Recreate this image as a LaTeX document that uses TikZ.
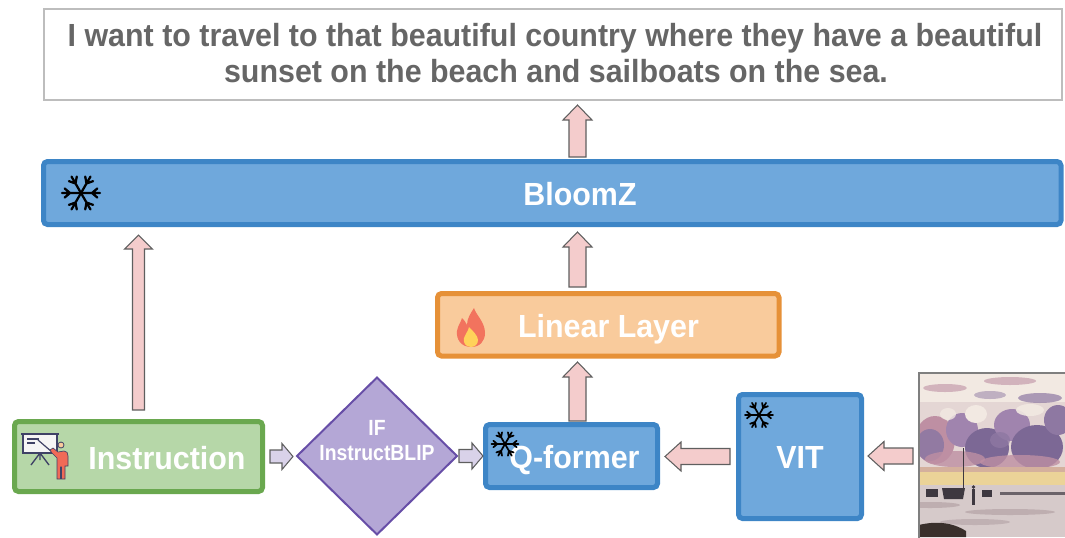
\documentclass[tikz,border=0pt]{standalone}
\usepackage{fontspec}
\setmainfont{Liberation Sans}[FakeStretch=0.95]
\newfontfamily\narrowfont{Liberation Sans}[FakeStretch=0.88]
\usetikzlibrary{shapes.geometric,calc}

\definecolor{topborder}{HTML}{BDBDBD}
\definecolor{toptext}{HTML}{666666}
\definecolor{bluefill}{HTML}{6FA8DC}
\definecolor{blueedge}{HTML}{3D85C6}
\definecolor{orangefill}{HTML}{F9CB9C}
\definecolor{orangeedge}{HTML}{E69138}
\definecolor{greenfill}{HTML}{B6D7A8}
\definecolor{greenedge}{HTML}{6AA84F}
\definecolor{purplefill}{HTML}{B4A7D6}
\definecolor{purpleedge}{HTML}{674EA7}
\definecolor{pinkfill}{HTML}{F4CCCC}
\definecolor{lilacfill}{HTML}{D9D2E9}
\definecolor{arrowedge}{HTML}{5F5F5F}
\definecolor{firered}{HTML}{F2735E}
\definecolor{fireyellow}{HTML}{FFD25A}
\definecolor{boardline}{HTML}{3F4266}
\definecolor{personred}{HTML}{F06A57}
\definecolor{skybase}{HTML}{E4D6D4}
\definecolor{cloudA}{HTML}{8E78A2}
\definecolor{cloudB}{HTML}{A084AE}
\definecolor{cloudC}{HTML}{7C6895}
\definecolor{cloudpink}{HTML}{BE8FA3}
\definecolor{cream}{HTML}{F2E9E2}
\definecolor{horizon}{HTML}{EBD398}
\definecolor{beach}{HTML}{D6CACA}
\definecolor{beachdark}{HTML}{B8A7AA}
\definecolor{boatdark}{HTML}{3E3840}
\definecolor{rock}{HTML}{3A302C}
\definecolor{frame}{HTML}{7F7F7F}

\tikzset{
  blockbox/.style={draw, line width=5*0.75pt, rounded corners=3pt,
    inner sep=0pt, outer sep=0pt},
  bluebox/.style={blockbox, fill=bluefill, draw=blueedge},
  boxlabel/.style={text=white, inner sep=0pt, anchor=base,
    font=\fontsize{24}{28}\selectfont\bfseries},
  answertext/.style={text=toptext, inner sep=0pt, anchor=base,
    font=\fontsize{24}{28}\selectfont\bfseries},
  pinkblock/.style={fill=pinkfill, draw=arrowedge, line width=0.8pt},
  lilacblock/.style={fill=lilacfill, draw=arrowedge, line width=0.8pt},
  % block arrows: #1 shaft half width, #2 head half width, #3 head length,
  % #4 gap at the start, #5 gap at the tip (all in px)
  up block/.style n args={5}{to path={let \p1=(\tikztostart), \p2=(\tikztotarget) in
    (\x1-#1*0.75pt, \y1+#4*0.75pt)
    -- (\x1-#1*0.75pt, \y2-#5*0.75pt-#3*0.75pt)
    -- (\x1-#2*0.75pt, \y2-#5*0.75pt-#3*0.75pt)
    -- (\x1, \y2-#5*0.75pt)
    -- (\x1+#2*0.75pt, \y2-#5*0.75pt-#3*0.75pt)
    -- (\x1+#1*0.75pt, \y2-#5*0.75pt-#3*0.75pt)
    -- (\x1+#1*0.75pt, \y1+#4*0.75pt) -- cycle}},
  right block/.style n args={5}{to path={let \p1=(\tikztostart), \p2=(\tikztotarget) in
    (\x1+#4*0.75pt, \y1+#1*0.75pt)
    -- (\x2-#5*0.75pt-#3*0.75pt, \y1+#1*0.75pt)
    -- (\x2-#5*0.75pt-#3*0.75pt, \y1+#2*0.75pt)
    -- (\x2-#5*0.75pt, \y1)
    -- (\x2-#5*0.75pt-#3*0.75pt, \y1-#2*0.75pt)
    -- (\x2-#5*0.75pt-#3*0.75pt, \y1-#1*0.75pt)
    -- (\x1+#4*0.75pt, \y1-#1*0.75pt) -- cycle}},
  left block/.style n args={5}{to path={let \p1=(\tikztostart), \p2=(\tikztotarget) in
    (\x1-#4*0.75pt, \y1+#1*0.75pt)
    -- (\x2+#5*0.75pt+#3*0.75pt, \y1+#1*0.75pt)
    -- (\x2+#5*0.75pt+#3*0.75pt, \y1+#2*0.75pt)
    -- (\x2+#5*0.75pt, \y1)
    -- (\x2+#5*0.75pt+#3*0.75pt, \y1-#2*0.75pt)
    -- (\x2+#5*0.75pt+#3*0.75pt, \y1-#1*0.75pt)
    -- (\x1-#4*0.75pt, \y1-#1*0.75pt) -- cycle}},
  pics/flake/.style={code={
    \foreach \ang in {0,60,...,300}{
      \draw[line width=#1, line cap=round, rotate=\ang]
        (0,0) -- (1,0)
        (0.58,0) -- (0.86,0.24) (0.58,0) -- (0.86,-0.24);
    }}},
}

\begin{document}
\begin{tikzpicture}[x=0.75pt,y=-0.75pt]
\useasboundingbox (0,0) rectangle (1065,537);

% output sentence
\node[draw=topborder, line width=2*0.75pt, fill=white, inner sep=0pt, outer sep=0pt,
  minimum width=1018*0.75pt, minimum height=91*0.75pt] (answer) at (553,54.5) {};
\node[answertext] (answer-l1) at (555,46)
  {I want to travel to that beautiful country where they have a beautiful};
\node[answertext] (answer-l2) at (556,82)
  {sunset on the beach and sailboats on the sea.};

% language model
\node[bluebox, minimum width=1017.5*0.75pt, minimum height=63*0.75pt] (bloomz) at (552.25,193) {};
\node[boxlabel] (bloomz-t) at (580,205) {BloomZ};
\pic[scale=19] at (81,193) {flake=1.7pt};

% projection layer
\node[blockbox, fill=orangefill, draw=orangeedge, minimum width=341.5*0.75pt,
  minimum height=62.5*0.75pt] (linear) at (608.25,324.75) {};
\node[boxlabel] (linear-t) at (608.5,337) {Linear Layer};
\begin{scope}[shift={(471,328)}]
  \fill[firered] (0,19) .. controls (-10,19) and (-15,11) .. (-14,3)
    .. controls (-13,-3) and (-10,-6) .. (-9,-10)
    .. controls (-6,-7) and (-5,-5) .. (-4,-3)
    .. controls (-4,-10) and (0,-15) .. (3,-20)
    .. controls (5,-13) and (14,-6) .. (14,5)
    .. controls (14,13) and (9,19) .. (0,19) -- cycle;
  \fill[fireyellow] (0,19) .. controls (-6,19) and (-8,14) .. (-7,10)
    .. controls (-6,6) and (-3,4) .. (-2,-1)
    .. controls (2,3) and (7,8) .. (7,12)
    .. controls (7,16) and (4,19) .. (0,19) -- cycle;
\end{scope}

% instruction
\node[blockbox, fill=greenfill, draw=greenedge, minimum width=248*0.75pt,
  minimum height=70*0.75pt] (instr) at (138.5,456.5) {};
\node[boxlabel] (instr-t) at (167,469) {Instruction};
% presenter icon
\fill[white!96!black] (23,434) rectangle (57,453);
\draw[boardline, line width=1.1pt] (23,434) rectangle (57,453);
\draw[boardline, line width=2pt] (21,434) -- (59,434);
\draw[boardline, line width=1pt] (27,439) -- (39,439) (27,443) -- (35,443);
\draw[boardline, line width=1pt] (40,453) -- (31,465) (40,453) -- (49,465) (40,453) -- (40,460);
\draw[boardline, line width=0.9pt] (38,440) -- (52,452);
\fill[personred, draw=boardline, line width=0.5pt]
  (50,450) -- (53,448) -- (58,452) -- (64,451) .. controls (67,451) and (68,453) .. (68,456)
  -- (68,466) -- (65,466) -- (65,479) -- (61.5,479) -- (61.5,467) -- (60.5,467) -- (60.5,479)
  -- (57,479) -- (57,458) -- (52,453) -- cycle;
\filldraw[fill=orangefill, draw=boardline, line width=0.6pt] (61,445) circle (3);

% instruction-following dataset
\node[diamond, draw=purpleedge, fill=purplefill, line width=2*0.75pt, inner sep=0pt,
  outer sep=0pt, minimum width=160*0.75pt, minimum height=157*0.75pt] (ifib) at (377,456) {};
\node[text=white, inner sep=0pt, anchor=base,
  font=\narrowfont\fontsize{16.5}{19}\selectfont\bfseries] (ifib-t1) at (377,435) {IF};
\node[text=white, inner sep=0pt, anchor=base,
  font=\narrowfont\fontsize{16.5}{19}\selectfont\bfseries] (ifib-t2) at (377,460) {InstructBLIP};

% query transformer
\node[bluebox, minimum width=172*0.75pt, minimum height=63*0.75pt] (qformer) at (571.5,456) {};
\node[boxlabel] (qformer-t) at (574.5,468) {Q-former};
\pic[scale=13.5] at (505,444) {flake=1.3pt};

% vision encoder
\node[bluebox, minimum width=123*0.75pt, minimum height=124*0.75pt] (vit) at (800,456.5) {};
\node[boxlabel] (vit-t) at (800,468) {VIT};
\pic[scale=14] at (759,415) {flake=1.3pt};

% input painting: sunset over a beach with boats
\begin{scope}
  \clip (919,373) rectangle (1065,537);
  \fill[skybase] (919,373) rectangle (1065,537);
  \fill[cream] (919,373) rectangle (1065,402);
  \fill[cloudpink, opacity=0.6] (945,388) ellipse (22 and 4);
  \fill[cloudpink, opacity=0.6] (1010,381) ellipse (26 and 4);
  \fill[cloudA, opacity=0.7] (1040,398) ellipse (22 and 5);
  \fill[cloudA, opacity=0.5] (990,395) ellipse (16 and 4);
  \fill[cloudpink] (935,440) ellipse (20 and 24);
  \fill[cloudA, opacity=0.9] (930,445) ellipse (14 and 16);
  \fill[cloudB] (962,430) ellipse (16 and 17);
  \fill[cloudC] (987,448) ellipse (22 and 20);
  \fill[cloudB] (1012,425) ellipse (18 and 16);
  \fill[cloudC] (1037,447) ellipse (26 and 22);
  \fill[cloudA] (1058,420) ellipse (14 and 15);
  \fill[cloudpink, opacity=0.8] (955,459) ellipse (30 and 8);
  \fill[cloudpink, opacity=0.8] (1020,462) ellipse (40 and 7);
  \fill[cloudA, opacity=0.8] (1000,440) ellipse (10 and 8);
  \fill[cream] (976,414) ellipse (11 and 9);
  \fill[cream, opacity=0.9] (1030,410) ellipse (14 and 6);
  \fill[cream, opacity=0.8] (948,414) ellipse (8 and 6);
  \fill[horizon] (919,467) rectangle (1065,485);
  \fill[cloudpink, opacity=0.5] (919,467) rectangle (1065,472);
  \fill[beach] (919,485) rectangle (1065,537);
  \fill[beachdark, opacity=0.8] (930,505) ellipse (30 and 3);
  \fill[beachdark, opacity=0.8] (1010,512) ellipse (45 and 3);
  \fill[beachdark, opacity=0.7] (975,522) ellipse (35 and 3);
  \draw[boatdark, line width=0.5pt] (963,448) -- (963,490);
  \fill[boatdark] (926,489) rectangle (938,497);
  \fill[boatdark] (942,488) -- (965,488) -- (963,499) -- (944,499) -- cycle;
  \fill[boatdark] (982,490) rectangle (992,497);
  \fill[boatdark] (972,489) rectangle (975,505);
  \fill[boatdark] (973.5,487) circle (1.8);
  \fill[boatdark, opacity=0.7] (1000,492) rectangle (1065,495);
  \fill[rock] (919,525) .. controls (935,521) and (952,522) .. (966,531) -- (966,537) -- (919,537) -- cycle;
\end{scope}
\node[draw=frame, line width=2*0.75pt, inner sep=0pt, outer sep=0pt,
  minimum width=148*0.75pt, minimum height=166*0.75pt] (painting) at (993,456) {};

% connectors
\coordinate (spine) at (577.5,300);
\draw[pinkblock, up block={8.5}{14.5}{15}{4.5}{5}] (spine |- bloomz.north) to (spine |- answer.south);
\draw[pinkblock, up block={8.5}{14.5}{15}{6.5}{7.5}] (spine |- linear.north) to (spine |- bloomz.south);
\draw[pinkblock, up block={8.5}{14.5}{15}{3.5}{6}] (spine |- qformer.north) to (spine |- linear.south);
\draw[pinkblock, up block={6}{14}{14}{11.5}{10.5}] (instr.north) to (instr.north |- bloomz.south);
\draw[lilacblock, right block={6.5}{13}{11}{7.5}{4}] (instr.east) to (ifib.west);
\draw[lilacblock, right block={6.5}{13}{11}{2}{2.5}] (ifib.east) to (qformer.west);
\draw[pinkblock, left block={8}{14.5}{16}{8.5}{7.5}] (vit.west) to (qformer.east);
\draw[pinkblock, left block={8}{14.5}{16}{6}{6.5}] (painting.west) to (vit.east);
\end{tikzpicture}
\end{document}
